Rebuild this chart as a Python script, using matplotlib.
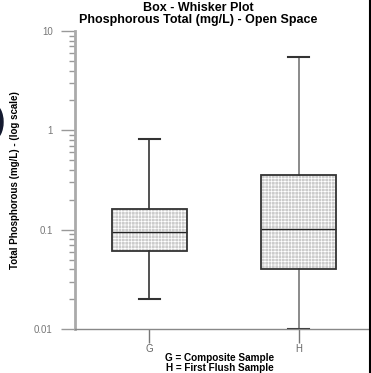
import matplotlib
matplotlib.use("Agg")
import matplotlib.pyplot as plt
from matplotlib.patches import PathPatch, Ellipse

plt.rcParams['font.family'] = ['Liberation Sans', 'DejaVu Sans']
plt.rcParams['hatch.linewidth'] = 0.5

# Box statistics (mg/L)
groups = ['G', 'H']
whisker_low = [0.02, 0.01]
q1 = [0.061, 0.040]
median = [0.095, 0.101]
q3 = [0.16, 0.355]
whisker_high = [0.82, 5.5]
y_ticks = [0.01, 0.1, 1, 10]
y_ticklabels = ['0.01', '0.1', '1', '10']

stats = []
for i, g in enumerate(groups):
    stats.append({'label': g, 'whislo': whisker_low[i], 'q1': q1[i], 'med': median[i],
                  'q3': q3[i], 'whishi': whisker_high[i], 'fliers': []})

W, H = 371, 373
fig = plt.figure(figsize=(W / 100, H / 100), dpi=100)
ax = fig.add_axes([75 / W, 1 - 329 / H, 296 / W, 298 / H])

bp = ax.bxp(stats, positions=[1, 2], widths=0.5, capwidths=0.14, patch_artist=True,
            showfliers=False,
            boxprops=dict(facecolor='#cccccc', edgecolor='white', linewidth=0, hatch='+++++'),
            medianprops=dict(color='#222222', linewidth=1),
            whiskerprops=dict(color='#333333', linewidth=1.2),
            capprops=dict(color='#333333', linewidth=1.5))
for b in bp['boxes']:
    ax.add_patch(PathPatch(b.get_path(), fill=False, edgecolor='#333333', linewidth=1.3, zorder=3))
for w in bp['whiskers'][2:]:
    w.set_color('#777777')

ax.set_yscale('log')
ax.set_ylim(0.01, 10)
ax.set_xlim(0.503, 2.483)
ax.set_yticks(y_ticks)
ax.set_yticklabels(y_ticklabels)
ax.tick_params(axis='y', which='major', length=10, width=1, color='#999999',
               labelsize=7, labelcolor='#777777', pad=6)
ax.tick_params(axis='y', which='minor', length=4, width=1, color='#999999')
ax.tick_params(axis='x', length=10, width=1, color='#777777', labelsize=7,
               labelcolor='#666666', pad=1)

for s in ['top', 'right']:
    ax.spines[s].set_visible(False)
ax.spines['left'].set_color('#aaaaaa')
ax.spines['left'].set_linewidth(2)
ax.spines['bottom'].set_color('#888888')
ax.spines['bottom'].set_linewidth(1)

ax.set_ylabel('Total Phosphorous (mg/L) - (log scale)', fontsize=7, fontweight='bold',
              labelpad=10)
ax.set_xlabel('G = Composite Sample\nH = First Flush Sample', fontsize=7.2,
              fontweight='bold', linespacing=1.0)
ax.xaxis.set_label_coords((220 - 75) / 296, -(353 - 329) / 298)
ax.xaxis.label.set_va('top')

fig.text(198 / W, 1 - 2 / H, 'Box - Whisker Plot\nPhosphorous Total (mg/L) - Open Space',
         ha='center', va='top', fontsize=9, fontweight='bold', linespacing=1.0)

# frame edge on the right and dark blob at the left edge
fig.add_artist(plt.Line2D([369.5 / W, 369.5 / W], [0, 1], color='black', linewidth=1.5,
                          transform=fig.transFigure))
fig.add_artist(Ellipse((-6 / W, 1 - 122 / H), 18 / W, 34 / H, color='#141a30',
                       transform=fig.transFigure))

fig.savefig('out.png', dpi=100)
